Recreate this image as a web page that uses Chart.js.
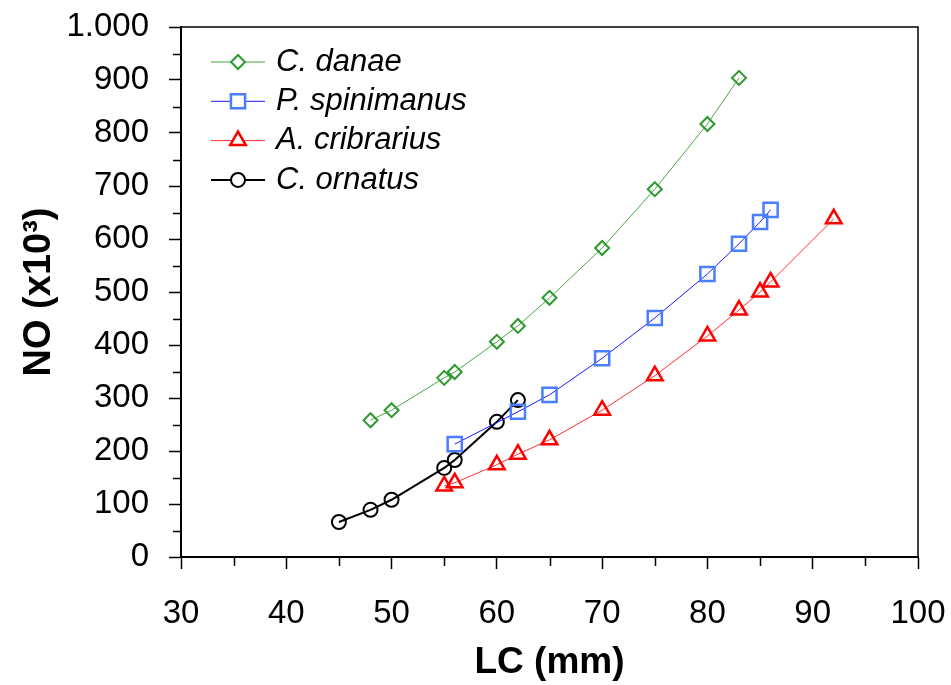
<!DOCTYPE html>
<html>
<head>
<meta charset="utf-8">
<script src="https://cdn.jsdelivr.net/npm/chart.js@4"></script>
<style>
  html, body { margin: 0; padding: 0; background: #fff; }
  #wrap { width: 951px; height: 685px; }
</style>
</head>
<body>
<div id="wrap"><canvas id="lcChart"></canvas></div>
<script>
"use strict"

// values: LC (mm) and NO (x10^3)
const danaeLC = [48, 50, 55, 56, 60, 62, 65, 70, 75, 80, 83];
const danaeNO = [258, 277, 338, 349, 406, 436, 489, 583, 694, 817, 904];

const spinLC = [56, 62, 65, 70, 75, 80, 83, 85, 86];
const spinNO = [213, 274, 306, 375, 451, 534, 591, 632, 655];

const cribLC = [55, 56, 60, 62, 65, 70, 75, 80, 83, 85, 86, 92];
const cribNO = [134, 140, 174, 194, 221, 277, 342, 417, 466, 500, 519, 638];

const ornLC = [45, 48, 50, 55, 56, 60, 62];
const ornNO = [66, 89, 108, 168, 183, 255, 296];

const seriesNames = ['C. danae', 'P. spinimanus', 'A. cribrarius', 'C. ornatus'];

function pts(xs, ys) {
  return xs.map((x, i) => ({x: x, y: ys[i]}));
}

const FONT = "'Liberation Sans', Arial, sans-serif";

// keep chart area fixed, ignore label overflow
function noOverflow(s) {
  s.paddingLeft = 0;
  s.paddingRight = 0;
  s.paddingTop = 0;
  s.paddingBottom = 0;
}

// minor ticks + frame + legend drawn on top of chart
const extrasPlugin = {
  id: 'extras',
  afterDraw(chart) {
    const ctx = chart.ctx;
    const xs = chart.scales.x, ys = chart.scales.y;
    const area = chart.chartArea;
    ctx.save();
    ctx.strokeStyle = '#000';
    ctx.lineWidth = 1.5;
    ctx.beginPath();
    ctx.moveTo(area.left, area.top);
    ctx.lineTo(area.right, area.top);
    ctx.lineTo(area.right, area.bottom);
    ctx.stroke();

    ctx.beginPath();
    for (let v = 35; v < 100; v += 10) {
      const px = Math.round(xs.getPixelForValue(v)) + 0.5;
      ctx.moveTo(px, area.bottom);
      ctx.lineTo(px, area.bottom + 9);
    }
    for (let v = 50; v < 1000; v += 100) {
      const py = Math.round(ys.getPixelForValue(v)) + 0.5;
      ctx.moveTo(area.left, py);
      ctx.lineTo(area.left - 8, py);
    }
    ctx.stroke();

    // legend
    const lx0 = 211, lx1 = 265, ly0 = 62, dy = 39.3;
    chart.data.datasets.forEach((ds, i) => {
      const y = ly0 + i * dy;
      ctx.strokeStyle = ds.borderColor;
      ctx.lineWidth = ds.borderWidth;
      ctx.beginPath();
      ctx.moveTo(lx0, y);
      ctx.lineTo(lx1, y);
      ctx.stroke();
      ctx.save();
      ctx.strokeStyle = ds.pointBorderColor;
      ctx.fillStyle = '#fff';
      ctx.lineWidth = ds.pointBorderWidth;
      Chart.helpers.drawPoint(ctx, {
        pointStyle: ds.pointStyle,
        radius: ds.pointRadius,
        borderWidth: ds.pointBorderWidth,
        rotation: 0
      }, (lx0 + lx1) / 2, y);
      ctx.restore();
      ctx.fillStyle = '#000';
      ctx.font = 'italic 31px ' + FONT;
      ctx.textBaseline = 'middle';
      ctx.textAlign = 'left';
      ctx.fillText(ds.label, 276, y);
    });
    ctx.restore();
  }
};

new Chart(document.getElementById('lcChart'), {
  type: 'scatter',
  data: {
    datasets: [
      {
        label: seriesNames[0],
        data: pts(danaeLC, danaeNO),
        showLine: true,
        borderColor: '#44a844',
        borderWidth: 1,
        pointStyle: 'rectRot',
        pointRadius: 7,
        pointBorderWidth: 2,
        pointBorderColor: '#2e9a2e',
        pointBackgroundColor: 'rgba(255,255,255,0)'
      },
      {
        label: seriesNames[1],
        data: pts(spinLC, spinNO),
        showLine: true,
        borderColor: '#1a1aff',
        borderWidth: 1,
        pointStyle: 'rect',
        pointRadius: 10,
        pointBorderWidth: 2.5,
        pointBorderColor: '#4a7dff',
        pointBackgroundColor: 'rgba(255,255,255,0)'
      },
      {
        label: seriesNames[2],
        data: pts(cribLC, cribNO),
        showLine: true,
        borderColor: '#ff3030',
        borderWidth: 1,
        pointStyle: 'triangle',
        pointRadius: 9,
        pointBorderWidth: 2.5,
        pointBorderColor: '#ff0000',
        pointBackgroundColor: 'rgba(255,255,255,0)'
      },
      {
        label: seriesNames[3],
        data: pts(ornLC, ornNO),
        showLine: true,
        borderColor: '#000',
        borderWidth: 2,
        pointStyle: 'circle',
        pointRadius: 7,
        pointBorderWidth: 2,
        pointBorderColor: '#000',
        pointBackgroundColor: 'rgba(255,255,255,0)'
      }
    ]
  },
  options: {
    responsive: true,
    maintainAspectRatio: false,
    animation: false,
    layout: { padding: { top: 27, right: 33, left: 0, bottom: 0 } },
    plugins: {
      legend: { display: false },
      tooltip: { enabled: false }
    },
    scales: {
      x: {
        type: 'linear',
        min: 30,
        max: 100,
        afterFit: s => { s.height = 128; noOverflow(s); },
        ticks: {
          stepSize: 10,
          color: '#000',
          padding: 25,
          font: { family: FONT, size: 33 }
        },
        grid: { drawOnChartArea: false, drawTicks: true, tickLength: 12, tickColor: '#000', tickWidth: 1.5 },
        border: { display: true, color: '#000', width: 2 },
        title: {
          display: true,
          text: 'LC (mm)',
          color: '#000',
          font: { family: FONT, size: 37, weight: 'bold' },
          padding: { top: 0, bottom: 0 }
        }
      },
      y: {
        type: 'linear',
        min: 0,
        max: 1000,
        afterFit: s => { s.width = 181; noOverflow(s); },
        ticks: {
          stepSize: 100,
          color: '#000',
          padding: 20,
          font: { family: FONT, size: 33 },
          callback: v => v >= 1000 ? String(v).replace(/(\d)(\d{3})$/, '$1.$2') : String(v)
        },
        grid: { drawOnChartArea: false, drawTicks: true, tickLength: 12, tickColor: '#000', tickWidth: 1.5 },
        border: { display: true, color: '#000', width: 2 },
        title: {
          display: true,
          text: 'NO (x10³)',
          color: '#000',
          font: { family: FONT, size: 38, weight: 'bold' },
          padding: { top: 17, bottom: 0 }
        }
      }
    }
  },
  plugins: [extrasPlugin]
});
</script>
</body>
</html>
